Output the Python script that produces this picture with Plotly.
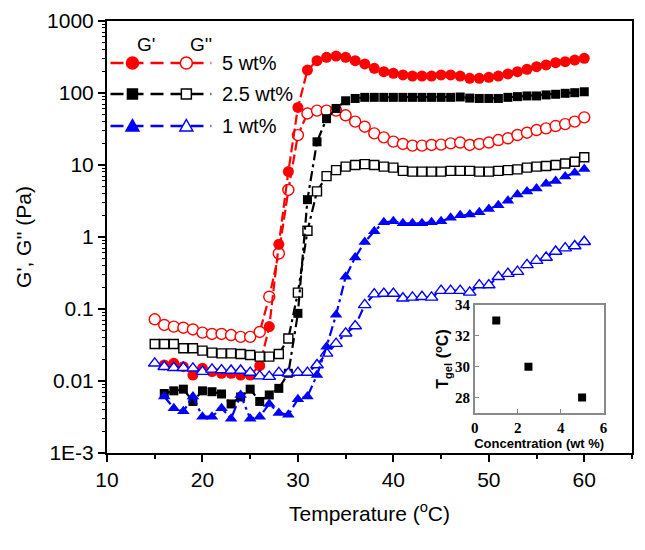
import plotly.graph_objects as go

# ---------------- data ----------------
temp_gp = list(range(16, 61))    # G' temperatures (°C)
temp_gpp = list(range(15, 61))   # G'' temperatures (°C)

g1_5 = [0.0167, 0.0176, 0.0158, 0.0121, 0.015, 0.0135, 0.0128, 0.0128, 0.0121, 0.0121,
        0.0163, 0.057, 0.79, 8.1, 63, 208, 281, 313, 326, 313,
        281, 253, 220, 198, 188, 178, 172, 172, 172, 178,
        178, 172, 160, 160, 165, 172, 184, 198, 213, 232,
        245, 264, 272, 287, 303]
g2_5 = [0.072, 0.060, 0.057, 0.055, 0.052, 0.047, 0.045, 0.045, 0.0435, 0.041,
        0.041, 0.048, 0.148, 0.59, 4.5, 26, 52, 57, 57, 57,
        49, 40, 34, 27.5, 24.2, 21.1, 19.6, 18.6, 18.6, 19,
        19.2, 20, 20.5, 19, 19.6, 20.5, 22.2, 23.5, 26.1, 28.1,
        30.6, 32.3, 34.8, 37, 40, 45.9]
g1_25 = [0.0067, 0.0073, 0.0077, 0.0052, 0.0073, 0.0071, 0.0066, 0.0048, 0.006, 0.0077,
         0.0052, 0.0064, 0.0079, 0.0128, 0.087, 3.3, 21, 44, 61, 78,
         84, 87, 87, 87, 87, 87, 87, 87, 87, 87,
         87, 88, 85, 84, 84, 84, 87, 89, 91, 91,
         94, 96, 99, 101, 104]
g2_25 = [0.0327, 0.0327, 0.0327, 0.0285, 0.0285, 0.0264, 0.0248, 0.0242, 0.0242, 0.0237,
         0.023, 0.0218, 0.0218, 0.0237, 0.039, 0.169, 1.22, 4.3, 7.0, 8.5,
         9.5, 10, 10.3, 10, 9.5, 9.2, 8.3, 8.1, 8.1, 8.1,
         8.1, 8.3, 8.3, 8.3, 8.1, 8.1, 8.3, 8.5, 8.7, 9.2,
         9.5, 9.7, 10, 10.5, 11.1, 12.8]
g1_1 = [0.0061, 0.0042, 0.0038, 0.0061, 0.0032, 0.0032, 0.0042, 0.003, 0.0064, 0.003,
        0.0032, 0.0048, 0.0036, 0.0034, 0.0056, 0.0061, 0.0121, 0.030, 0.083, 0.28,
        0.52, 0.85, 1.2, 1.6, 1.65, 1.55, 1.55, 1.55, 1.6, 1.65,
        1.85, 2.0, 2.05, 2.2, 2.45, 2.75, 3.2, 3.9, 4.3, 4.7,
        5.5, 6.0, 6.9, 7.8, 8.8]
g2_1 = [0.0176, 0.0158, 0.0153, 0.0153, 0.015, 0.0135, 0.0145, 0.0142, 0.014, 0.014,
        0.0131, 0.0117, 0.0115, 0.0131, 0.0128, 0.0131, 0.0131, 0.0167, 0.0242, 0.033,
        0.046, 0.058, 0.114, 0.161, 0.164, 0.164, 0.141, 0.145, 0.148, 0.145,
        0.18, 0.18, 0.18, 0.17, 0.215, 0.215, 0.28, 0.31, 0.33, 0.41,
        0.47, 0.52, 0.63, 0.70, 0.75, 0.86]

series_labels = ["5 wt%", "2.5 wt%", "1 wt%"]
series_colors = ["#ff0000", "#000000", "#0000ff"]

conc = [1, 2.5, 5]
tgel = [33, 30, 28]

x_ticks = [10, 20, 30, 40, 50, 60]
y_ticks = [1e-3, 1e-2, 1e-1, 1, 10, 100, 1000]
y_ticktext = ["1E-3", "0.01", "0.1", "1", "10", "100", "1000"]
inset_x_ticks = [0, 2, 4, 6]
inset_y_ticks = [28, 30, 32, 34]

# ---------------- figure ----------------
fig = go.Figure()

gp_sets = [g1_5, g1_25, g1_1]
gpp_sets = [g2_5, g2_25, g2_1]
gp_symbols = ["circle", "square", "triangle-up"]
gp_sizes = [11, 9, 11]
dashes = ["10px,4px", "10px,4px,3px,4px", "10px,4px,3px,4px"]

for i in range(3):
    c = series_colors[i]
    fig.add_trace(go.Scatter(
        x=temp_gpp, y=gpp_sets[i], mode="lines+markers", name="G'' " + series_labels[i],
        line=dict(color=c, width=2.2, dash=dashes[i]),
        marker=dict(symbol=gp_symbols[i], size=gp_sizes[i], color="white",
                    line=dict(color=c, width=1.4)),
    ))
    fig.add_trace(go.Scatter(
        x=temp_gp, y=gp_sets[i], mode="lines+markers", name="G' " + series_labels[i],
        line=dict(color=c, width=2.2, dash=dashes[i]),
        marker=dict(symbol=gp_symbols[i], size=gp_sizes[i], color=c,
                    line=dict(color=c, width=0)),
    ))

fig.add_trace(go.Scatter(
    x=conc, y=tgel, mode="markers", xaxis="x2", yaxis="y2", name="Tgel",
    marker=dict(symbol="square", size=8, color="black"),
))

minor_y = [k * 10.0 ** e for e in range(-3, 3) for k in range(2, 10)]

# page has an 8px body margin: figure origin sits at (8, 8) in the screenshot
OFF = 8
W, H = 637, 542
L, R, T, B = 98.5, 12.5, 13, 97
pw, ph = W - L - R, H - T - B


def px2paper_x(px):
    return (px - OFF - L) / pw


def px2paper_y(py):
    return (H - B - (py - OFF)) / ph


fig.update_layout(
    width=W, height=H,
    margin=dict(l=L, r=R, t=T, b=B, autoexpand=False),
    paper_bgcolor="white", plot_bgcolor="white",
    showlegend=False,
    font=dict(family="Liberation Sans, Arial, sans-serif", color="black"),
    xaxis=dict(
        range=[10, 65], domain=[0, 1], automargin=False,
        tickmode="array", tickvals=x_ticks,
        ticks="outside", ticklen=7, tickwidth=1.5, tickcolor="black",
        minor=dict(tickmode="linear", tick0=15, dtick=10, ticks="outside", ticklen=4,
                   tickwidth=1.5, tickcolor="black", showgrid=False),
        showline=True, linecolor="black", linewidth=2, mirror=True,
        showgrid=False, zeroline=False,
        tickfont=dict(size=21),
        title=dict(text="Temperature (<sup>o</sup>C)", font=dict(size=21), standoff=16),
    ),
    yaxis=dict(
        type="log", range=[-3, 3], domain=[0, 1], automargin=False,
        tickmode="array", tickvals=y_ticks, ticktext=y_ticktext,
        ticks="outside", ticklen=7, tickwidth=1.5, tickcolor="black",
        minor=dict(tickmode="array", tickvals=minor_y, ticks="outside", ticklen=3,
                   tickwidth=1, tickcolor="black", showgrid=False),
        showline=True, linecolor="black", linewidth=2, mirror=True,
        showgrid=False, zeroline=False,
        tickfont=dict(size=21),
        title=dict(text="G', G'' (Pa)", font=dict(size=21), standoff=10),
    ),
    xaxis2=dict(
        domain=[px2paper_x(475), px2paper_x(604)], anchor="y2", automargin=False,
        range=[0, 6], tickmode="array", tickvals=inset_x_ticks,
        ticks="inside", ticklen=4, tickcolor="#888888",
        showline=True, linecolor="#8a8a8a", linewidth=1.5, mirror=True,
        showgrid=False, zeroline=False,
        tickfont=dict(size=15, family="Liberation Serif, Times New Roman, serif", weight="bold"),
        title=dict(text="<b>Concentration (wt %)</b>", font=dict(size=13), standoff=2),
    ),
    yaxis2=dict(
        domain=[px2paper_y(413), px2paper_y(305)], anchor="x2", automargin=False,
        range=[27, 34], tickmode="array", tickvals=inset_y_ticks,
        ticks="inside", ticklen=4, tickcolor="#888888",
        showline=True, linecolor="#8a8a8a", linewidth=1.5, mirror=True,
        showgrid=False, zeroline=False,
        tickfont=dict(size=15, family="Liberation Serif, Times New Roman, serif", weight="bold"),
        title=dict(text="<b>T<sub>gel</sub> (<sup>o</sup>C)</b>", font=dict(size=16), standoff=2),
    ),
)

# ---------------- custom legend (G' / G'' columns) ----------------
shapes = []
annotations = []
rows_py = [63, 94, 126]
line_x0, line_x1 = px2paper_x(110), px2paper_x(211)
filled_x, open_x = px2paper_x(132), px2paper_x(186)


def marker_shape(kind, xa, ya, color, filled):
    common = dict(xref="paper", yref="paper", xsizemode="pixel", ysizemode="pixel",
                  xanchor=xa, yanchor=ya,
                  fillcolor=color if filled else "white",
                  line=dict(color=color, width=1.5), layer="above")
    if kind == "circle":
        return dict(type="circle", x0=-6, x1=6, y0=-6, y1=6, **common)
    if kind == "square":
        return dict(type="rect", x0=-5, x1=5, y0=-5, y1=5, **common)
    return dict(type="path", path="M -6.5,-5 L 6.5,-5 L 0,6.5 Z", **common)


for i in range(3):
    yy = px2paper_y(rows_py[i])
    c = series_colors[i]
    shapes.append(dict(type="line", xref="paper", yref="paper",
                       x0=line_x0, x1=line_x1, y0=yy, y1=yy,
                       line=dict(color=c, width=2.5, dash="13px,7px"), layer="above"))
    shapes.append(marker_shape(gp_symbols[i], filled_x, yy, c, True))
    shapes.append(marker_shape(gp_symbols[i], open_x, yy, c, False))
    annotations.append(dict(text=series_labels[i], xref="paper", yref="paper",
                            x=px2paper_x(220), y=yy, xanchor="left", yanchor="middle",
                            showarrow=False, font=dict(size=20)))

annotations.append(dict(text="G'", xref="paper", yref="paper", x=px2paper_x(135),
                        y=px2paper_y(32), showarrow=False, font=dict(size=19)))
annotations.append(dict(text="G''", xref="paper", yref="paper", x=px2paper_x(188),
                        y=px2paper_y(32), showarrow=False, font=dict(size=19)))

fig.update_layout(shapes=shapes, annotations=annotations)

fig.write_html("out.html")
